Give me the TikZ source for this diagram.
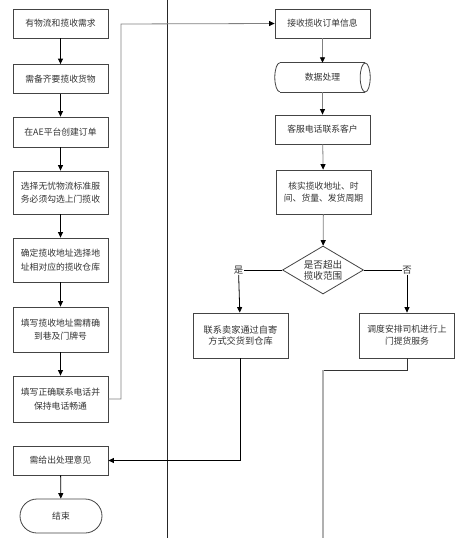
\documentclass[tikz,border=0pt]{standalone}
\usepackage{fontspec}
\setmainfont{Noto Sans CJK SC}
\usetikzlibrary{arrows.meta,shapes.geometric}
\definecolor{ink}{HTML}{333333}
\definecolor{edge}{HTML}{444444}
\definecolor{conn}{HTML}{808080}
\definecolor{pale}{HTML}{B0B0B0}
\begin{document}
\begin{tikzpicture}[x=1pt,y=-1pt,
  every node/.style={font=\fontsize{8.8}{13.5}\selectfont, text=ink, inner sep=1pt},
  box/.style={draw=edge, line width=0.8pt, minimum width=95pt, minimum height=29pt, align=center},
  tallbox/.style={box, minimum height=44pt},
  endbox/.style={draw=edge, line width=0.8pt, minimum width=82pt, minimum height=34pt, rounded corners=17pt},
  decide/.style={diamond, draw=edge, line width=0.8pt, minimum width=81pt, minimum height=48pt, aspect=1.7, inner sep=0pt, align=center, font=\fontsize{9.6}{11}\selectfont},
  lbl/.style={fill=white, inner sep=0.5pt, font=\fontsize{9.4}{11}\selectfont},
  arr/.style={line width=0.8pt, draw=black, -{Triangle[length=5.5pt,width=5pt]}},
  garr/.style={line width=0.8pt, draw=conn, -{Triangle[length=5.5pt,width=5pt,fill=black,color=black]}},
  lane/.style={line width=1pt, draw=black!85}
]
\useasboundingbox (0,0) rectangle (461,538);
\fill[white] (0,0) rectangle (461,538);

% lane divider
\coordinate (laneTop) at (167,0);
\coordinate (laneBot) at (167,538);
\draw[lane] (laneTop) -- (laneBot);

% left column
\node[box] (b1) at (60.5,23.5) {有物流和揽收需求};
\node[box] (b2) at (60.5,79) {需备齐要揽收货物};
\node[box, minimum height=30pt] (b3) at (60.5,132) {在AE平台创建订单};
\node[tallbox, minimum height=43pt] (b4) at (60.5,192.5) {选择无忧物流标准服\\务必须勾选上门揽收};
\node[tallbox] (b5) at (60.5,260) {确定揽收地址选择地\\址相对应的揽收仓库};
\node[tallbox, minimum height=45pt] (b6) at (60.5,329.5) {填写揽收地址需精确\\到巷及门牌号};
\node[tallbox, minimum height=46pt] (b7) at (60.5,399) {填写正确联系电话并\\保持电话畅通};
\node[box] (b8) at (60.5,460.5) {需给出处理意见};
\node[endbox] (end) at (61,516) {结束};

\draw[arr] (b1) -- (b2);
\draw[arr] (b2) -- (b3);
\draw[arr] (b3) -- (b4);
\draw[arr] (b4) -- (b5);
\draw[arr] (b5) -- (b6);
\draw[arr] (b6) -- (b7);
\draw[arr] (b8) -- (end);

% right column
\node[box] (r1) at (322.5,23.5) {接收揽收订单信息};
\node[minimum width=95pt, minimum height=29pt] (cyl) at (322.5,77.5) {数据处理};
\draw[edge, line width=0.8pt] ([xshift=5pt]cyl.north west) -- ([xshift=-5pt]cyl.north east)
  ([xshift=5pt]cyl.south west) -- ([xshift=-5pt]cyl.south east);
\draw[edge, line width=0.8pt] ([xshift=5pt]cyl.north west) arc[start angle=90, end angle=270, x radius=5pt, y radius=14.5pt];
\draw[edge, line width=0.8pt] ([xshift=-5pt]cyl.east) ellipse[x radius=5pt, y radius=14.5pt];
\node[box] (r3) at (322.5,129.5) {客服电话联系客户};
\node[tallbox, font=\fontsize{8.8}{12.5}\selectfont] (r4) at (323.5,192) {核实揽收地址、时\\间、货量、发货周期};
\node[decide] (dec) at (323,270) {是否超出\\揽收范围};
\node[lbl] (yes) at (238.5,270) {是};
\node[lbl] (no) at (407,270) {否};
\node[tallbox, minimum height=45pt, font=\fontsize{9.2}{11.5}\selectfont] (lb) at (240.5,335.5) {联系卖家通过自寄\\方式交货到仓库};
\node[tallbox, minimum height=45pt, font=\fontsize{8.8}{12}\selectfont] (rb) at (407,335.5) {调度安排司机进行上\\门提货服务};

\draw[garr] (r1) -- (cyl);
\draw[garr] (cyl) -- (r3);
\draw[garr] (r3) -- (r4);
\draw[garr] (r4) -- (dec);
\draw[line width=0.8pt, draw=black] (dec.west) -- (yes);
\draw[line width=0.8pt, draw=black] (dec.east) -- (no);
\draw[arr] (yes) -- (lb);
\draw[arr] (no) -- (rb);

% cross-lane connectors
\coordinate (up1) at (121,399);
\coordinate (up2) at (121,24);
\draw[garr] (b7.east) -- (up1) -- (up2) -- (r1.west);
\coordinate (dn1) at (240.5,460.5);
\draw[arr] (lb.south) -- (dn1) -- (b8.east);
\coordinate (t1) at (407,370);
\coordinate (t2) at (323,370);
\coordinate (t3) at (323,538);
\draw[line width=0.9pt, draw=black!80] (rb.south) -- (t1) -- (t2);
\draw[line width=1.6pt, draw=pale] (t2) -- (t3);
\end{tikzpicture}
\end{document}
